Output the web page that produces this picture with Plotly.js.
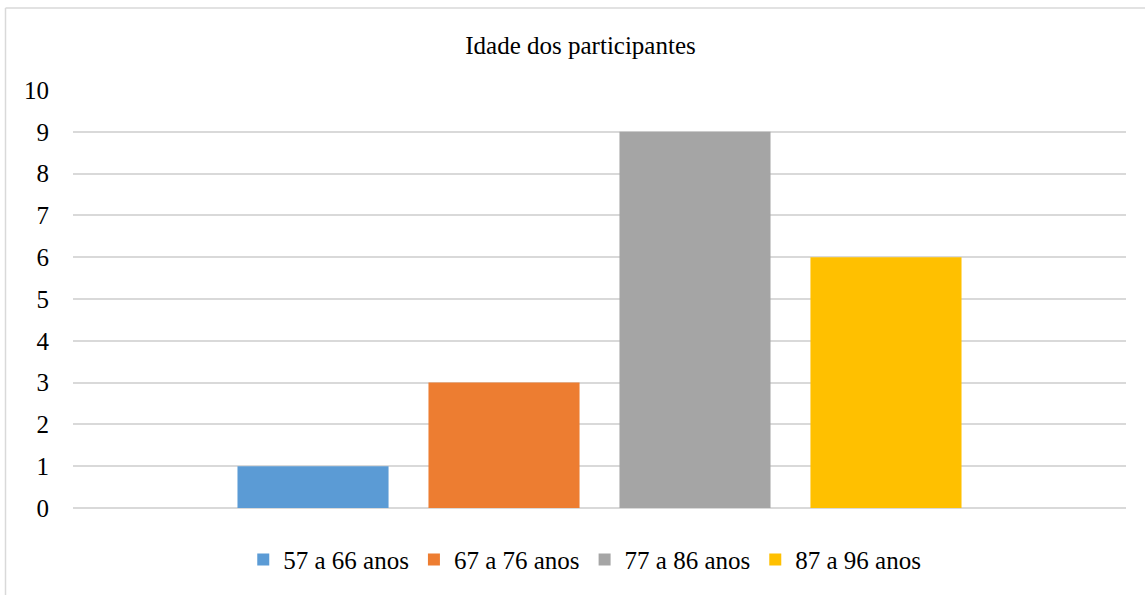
<!DOCTYPE html>
<html>
<head>
<meta charset="utf-8">
<script src="https://cdn.plot.ly/plotly-3.0.1.min.js"></script>
<style>
  html, body { margin: 0; padding: 0; background: #fff; }
</style>
</head>
<body>
<div id="chart"></div>
<script>
// one (unlabelled) category, four age groups
var category = ["Idade"];
var faixas = ["57 a 66 anos", "67 a 76 anos", "77 a 86 anos", "87 a 96 anos"];
var participantes = [1, 3, 9, 6];
var cores = ["#5B9BD5", "#ED7D31", "#A5A5A5", "#FFC000"];

var fam = "Liberation Serif";
var borderCol = "#d9d9d9";

function draw() {
  var data = faixas.map((nome, i) => ({
    x: category,
    y: [participantes[i]],
    name: nome,
    type: "bar",
    marker: {color: cores[i]}
  }));

  var layout = {
    width: 1145,
    height: 595,
    margin: {l: 73, r: 19, t: 90, b: 85},
    font: {family: fam, size: 25, color: "#000"},
    title: {
      text: "Idade dos participantes",
      font: {family: fam, size: 25, color: "#000"},
      x: 0.507, xanchor: "center",
      y: 0.924, yanchor: "middle"
    },
    barmode: "group",
    bargap: 0.2745,
    bargroupgap: 0.209,
    xaxis: {showticklabels: false, showgrid: false, zeroline: false},
    yaxis: {
      range: [0, 10],
      dtick: 1,
      gridcolor: borderCol,
      gridwidth: 1.5,
      zerolinecolor: borderCol,
      zerolinewidth: 1.5,
      ticks: "outside",
      ticklen: 18,
      tickcolor: "rgba(0,0,0,0)",
      tickfont: {family: fam, size: 25, color: "#000"}
    },
    showlegend: true,
    legend: {
      orientation: "h",
      x: 0.486, xanchor: "center",
      y: -0.124, yanchor: "middle",
      font: {family: fam, size: 25, color: "#000"},
      traceorder: "normal"
    },
    shapes: [
      {type: "line", xref: "paper", yref: "paper",
       x0: -0.0641, x1: -0.0641, y0: 1.196, y1: -0.214,
       line: {color: borderCol, width: 1.5}},
      {type: "line", xref: "paper", yref: "paper",
       x0: -0.0641, x1: 1.023, y0: 1.196, y1: 1.196,
       line: {color: borderCol, width: 1.5}}
    ]
  };

  Plotly.newPlot("chart", data, layout, {displayModeBar: false});
}

if (document.fonts && document.fonts.load) {
  document.fonts.load('25px "Liberation Serif"').then(draw, draw);
} else {
  draw();
}
</script>
</body>
</html>
